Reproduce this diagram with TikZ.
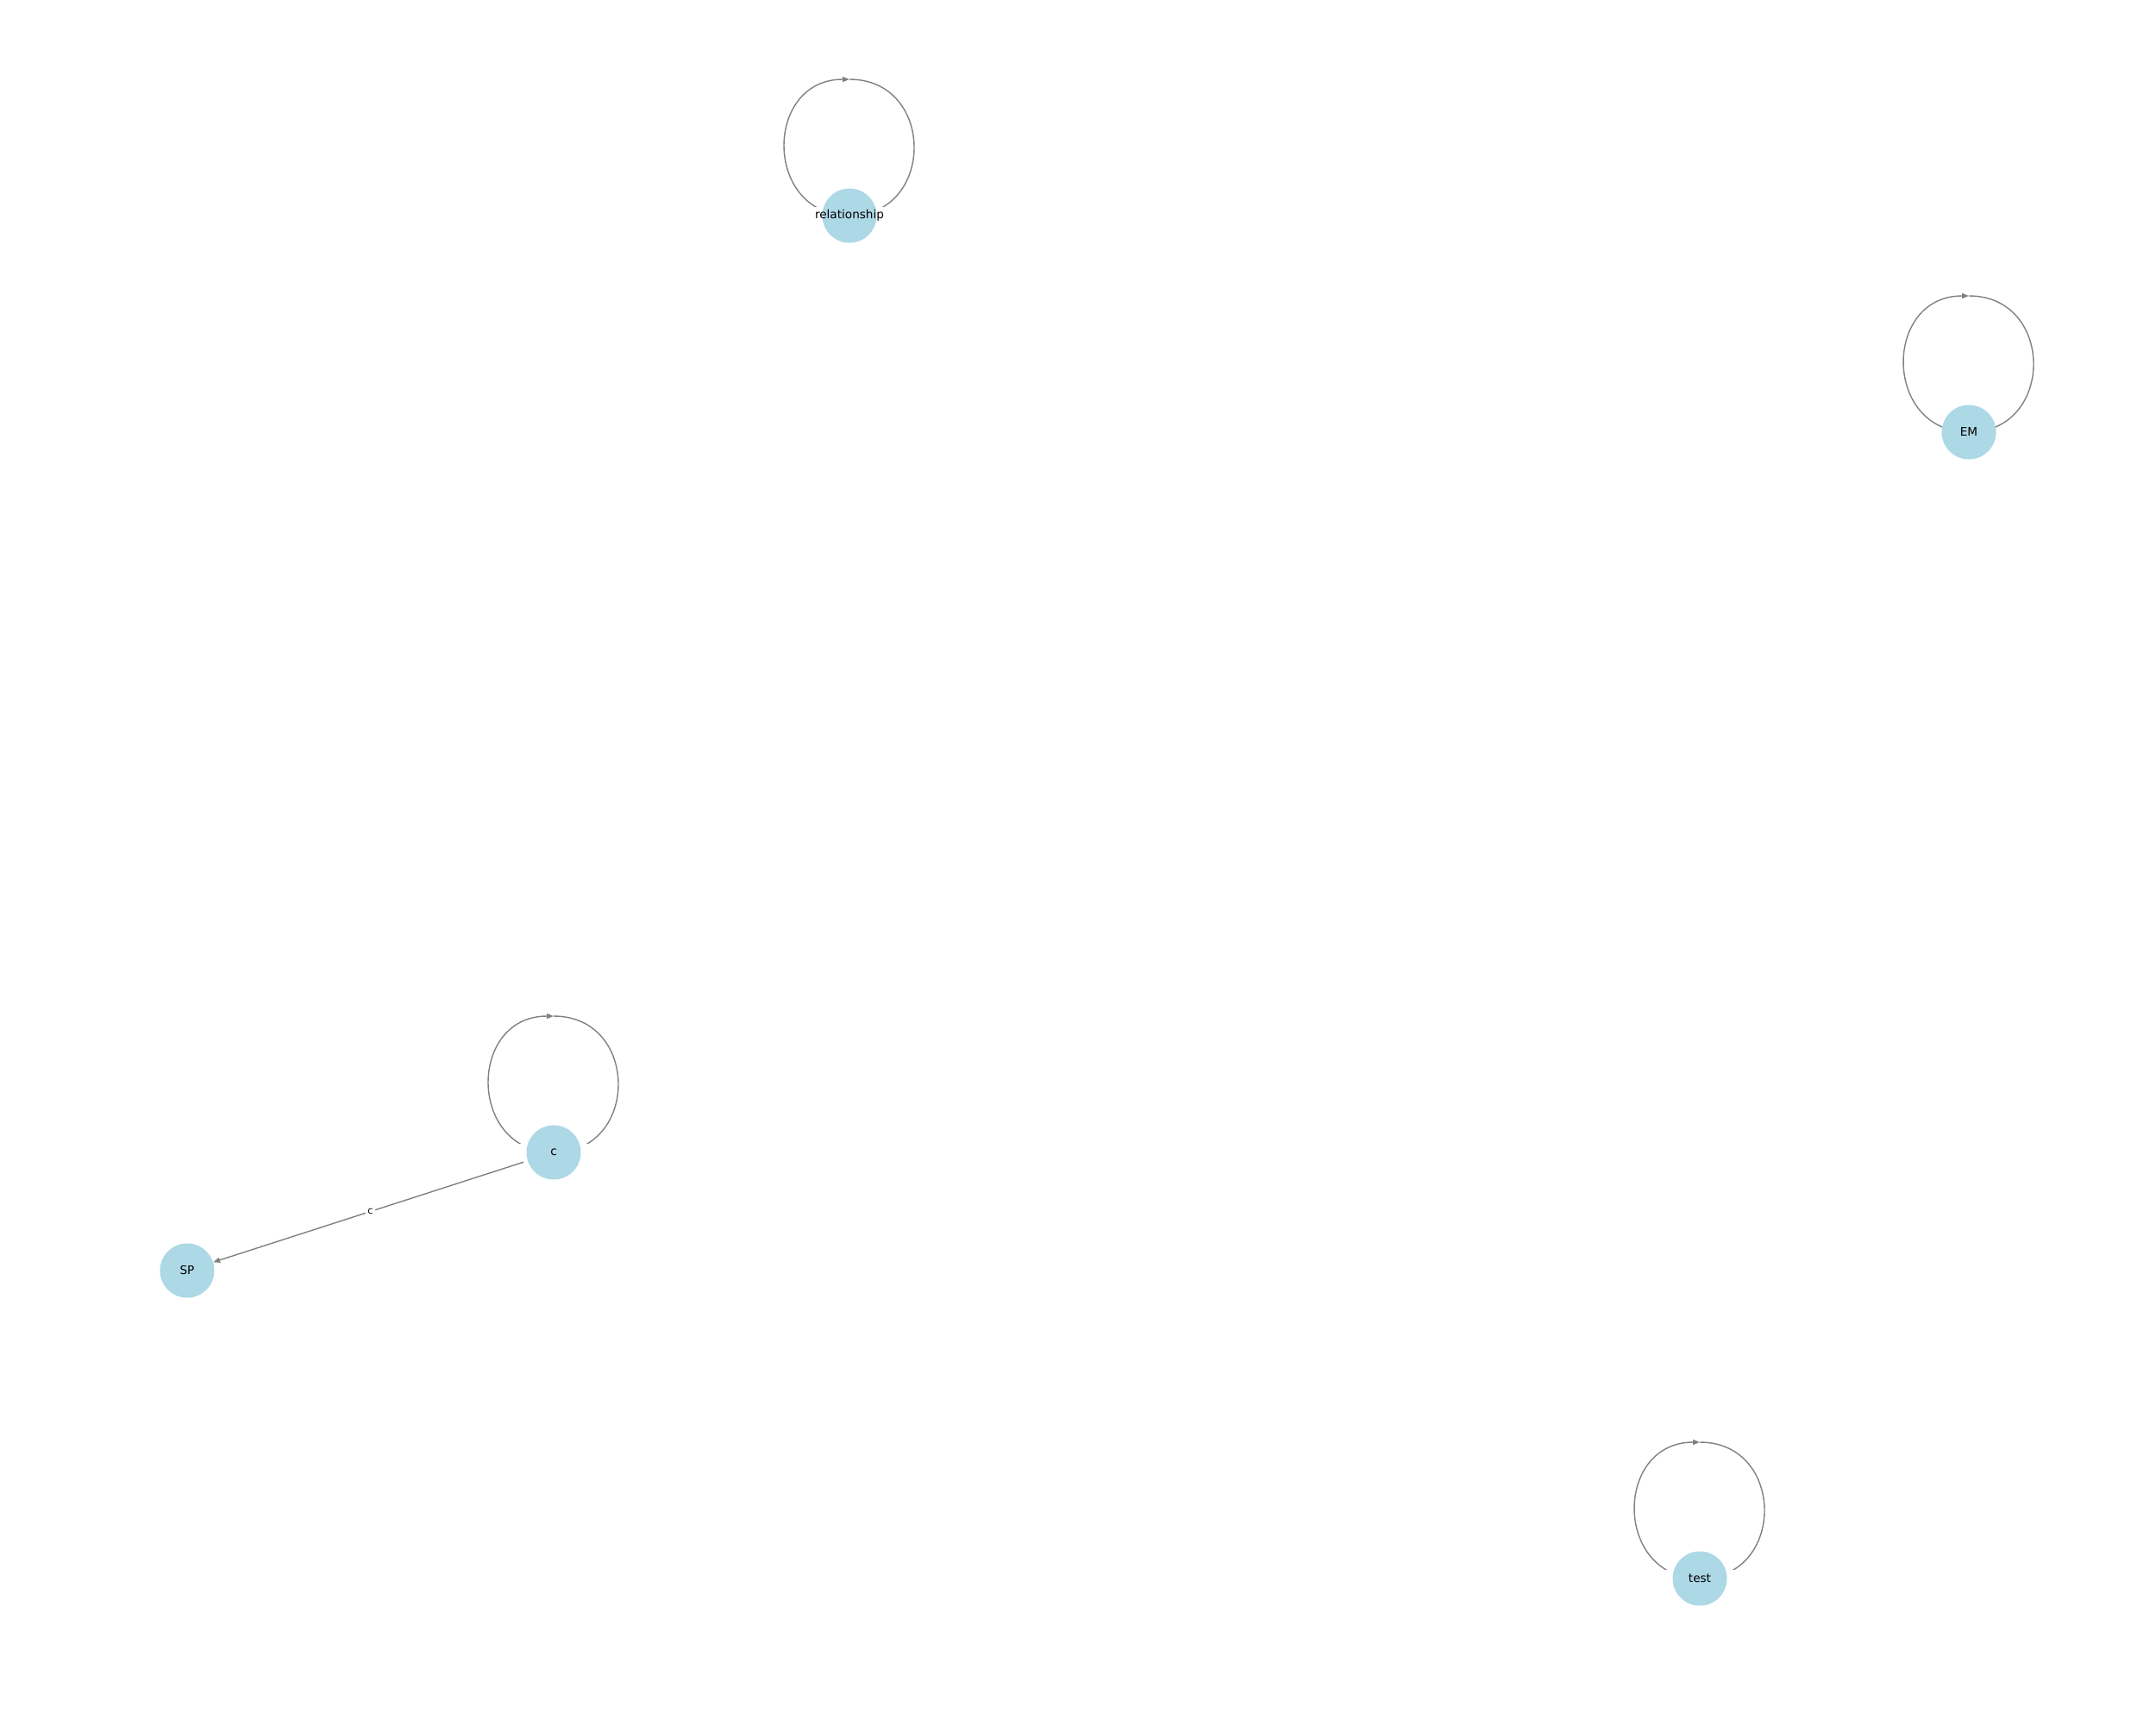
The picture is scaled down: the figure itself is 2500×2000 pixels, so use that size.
\documentclass[tikz,border=0pt]{standalone}
\usepackage{fontspec}
\setmainfont{DejaVu Sans}
\usetikzlibrary{arrows.meta}
\definecolor{nodeblue}{HTML}{ADD8E6}
\definecolor{edgegray}{HTML}{808080}
\begin{document}
\begin{tikzpicture}[x=1pt,y=-1pt,
  gnode/.style={circle,fill=nodeblue,draw=none,minimum size=63pt,inner sep=0pt,
    font=\fontsize{13.6}{16}\selectfont},
  edge/.style={draw=edgegray,line width=1.4pt,-{Triangle[length=8pt,width=6pt]}},
  elabel/.style={fill=white,inner sep=2pt,font=\fontsize{11.3}{13}\selectfont},
  lblbox/.style={fill=white,draw=none,minimum width=80pt,minimum height=20pt,inner sep=0pt}]
\useasboundingbox (0,0) rectangle (2500,2000);
% node positions
\coordinate (relp) at (985,250);
\coordinate (emp) at (2283,501);
\coordinate (cp) at (642,1336);
\coordinate (spp) at (217,1473);
\coordinate (testp) at (1971,1830);
% self loops
\draw[edge] ([yshift=158pt]relp) .. controls +(100,0) and +(100,0) .. (relp)
  .. controls +(-100,0) and +(-100,0) .. ([yshift=158pt]relp);
\draw[edge] ([yshift=158pt]emp) .. controls +(100,0) and +(100,0) .. (emp)
  .. controls +(-100,0) and +(-100,0) .. ([yshift=158pt]emp);
\draw[edge] ([yshift=158pt]cp) .. controls +(100,0) and +(100,0) .. (cp)
  .. controls +(-100,0) and +(-100,0) .. ([yshift=158pt]cp);
\draw[edge] ([yshift=158pt]testp) .. controls +(100,0) and +(100,0) .. (testp)
  .. controls +(-100,0) and +(-100,0) .. ([yshift=158pt]testp);
% label boxes of the loops
\node[lblbox] (relbox) at (relp) {};
\node[lblbox] (cbox) at (cp) {};
\node[lblbox] (testbox) at (testp) {};
% nodes
\node[gnode] (rel) at (relp) {\makebox[0pt]{relationship}};
\node[gnode] (EM) at (emp) {\makebox[0pt]{EM}};
\node[gnode] (c) at (cp) {\makebox[0pt]{c}};
\node[gnode] (SP) at (spp) {\makebox[0pt]{SP}};
\node[gnode] (test) at (testp) {\makebox[0pt]{test}};
% edge c -> SP
\draw[edge,shorten <=5pt] (c) -- node[elabel] (clabel) {c} (SP);
\end{tikzpicture}
\end{document}
